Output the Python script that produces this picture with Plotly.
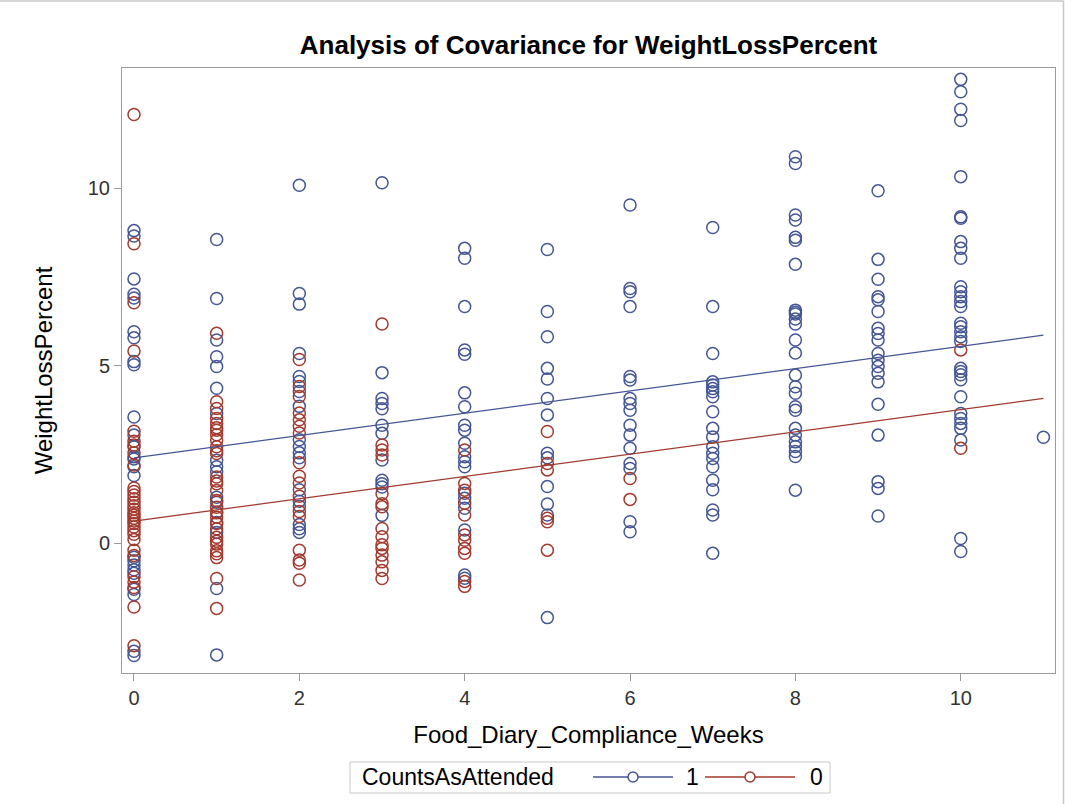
import plotly.graph_objects as go

# ---- data (weeks -> weight loss percent) ----
weeks_att = ([0]*25 + [1]*17 + [2]*18 + [3]*12 + [4]*19 + [5]*13 + [6]*16 + [7]*20 + [8]*26 + [9]*19 + [10]*32 + [11])
wl_att = [
    # week 0
    8.80, 8.65, 7.44, 7.01, 6.90, 5.95, 5.78, 5.11, 5.02, 3.55, 3.04, 2.71, 2.43, 2.37, 2.15,
    -0.40, -0.50, -0.62, -0.75, -0.85, -1.30, -1.45, -3.05, -3.17, 1.90,
    # week 1
    8.55, 6.89, 5.72, 5.25, 4.97, 4.36, 3.65, 2.33, 2.15, 2.01, 1.29, 1.15, 0.87, 0.58, 0.30, -1.28, -3.15,
    # week 2
    10.08, 7.03, 6.73, 5.34, 4.69, 4.55, 4.27, 3.85, 2.91, 2.72, 2.54, 2.40, 1.50, 1.18, 1.04, 0.52, 0.40, 0.30,
    # week 3
    10.15, 4.80, 4.07, 3.93, 3.78, 3.32, 3.09, 2.34, 1.77, 1.67, 1.58, 0.78,
    # week 4
    8.30, 8.02, 6.66, 5.44, 5.32, 4.23, 3.84, 3.32, 3.18, 2.81, 2.43, 2.29, 2.15, 1.40, 1.26, 0.98, 0.37, -0.90, -0.99,
    # week 5
    8.27, 6.52, 5.81, 4.92, 4.62, 4.07, 3.61, 2.53, 2.40, 1.59, 1.10, 0.79, -2.10,
    # week 6
    9.52, 7.17, 7.08, 6.66, 4.69, 4.59, 4.07, 3.93, 3.74, 3.32, 3.04, 2.67, 2.24, 2.10, 0.60, 0.32,
    # week 7
    8.89, 6.66, 5.34, 4.54, 4.45, 4.35, 4.26, 4.12, 3.70, 3.23, 2.99, 2.71, 2.53, 2.38, 2.15, 1.77, 1.50, 0.93, 0.79, -0.29,
    # week 8
    10.88, 10.69, 9.24, 9.10, 8.61, 8.53, 7.85, 6.56, 6.50, 6.45, 6.31, 6.17, 5.72, 5.35, 4.73, 4.40, 4.22,
    3.84, 3.74, 3.23, 3.04, 2.85, 2.72, 2.58, 2.44, 1.49,
    # week 9
    9.92, 7.99, 7.43, 6.94, 6.85, 6.52, 6.05, 5.90, 5.72, 5.34, 5.15, 4.97, 4.78, 4.54, 3.91, 3.04, 1.73, 1.54, 0.76,
    # week 10
    13.06, 12.71, 12.22, 11.90, 10.32, 9.19, 9.15, 8.49, 8.30, 8.02, 7.22, 7.08, 6.94, 6.80, 6.66, 6.19, 6.09,
    5.95, 5.81, 5.68, 4.92, 4.83, 4.74, 4.60, 4.12, 3.65, 3.51, 3.37, 3.23, 2.90, 0.13, -0.24,
    # week 11
    2.98,
]

weeks_not = ([0]*32 + [1]*30 + [2]*17 + [3]*15 + [4]*11 + [5]*6 + [6]*2 + [10]*2)
wl_not = [
    # week 0
    12.07, 8.43, 6.77, 5.41, 3.15, 2.87, 2.76, 2.54, 2.20, 1.55, 1.45, 1.35, 1.25, 1.15, 1.05, 0.95,
    0.85, 0.78, 0.70, 0.62, 0.55, 0.45, 0.35, 0.25, 0.10, -0.20, -0.35, -0.95, -1.10, -1.25, -1.80, -2.89,
    # week 1
    5.91, 3.98, 3.79, 3.51, 3.37, 3.25, 3.18, 3.05, 2.90, 2.71, 2.60, 2.52, 1.86, 1.75, 1.67, 1.48, 1.20,
    1.01, 0.85, 0.73, 0.55, 0.40, 0.16, 0.05, -0.03, -0.22, -0.30, -0.41, -1.00, -1.84,
    # week 2
    5.17, 4.41, 4.13, 3.66, 3.47, 3.29, 3.10, 2.26, 1.88, 1.69, 1.32, 0.89, 0.75, -0.20, -0.48, -0.57, -1.04,
    # week 3
    6.17, 2.76, 2.62, 2.48, 1.39, 1.11, 1.02, 0.41, 0.18, -0.05, -0.15, -0.34, -0.53, -0.77, -1.00,
    # week 4
    2.62, 1.68, 1.49, 1.12, 0.79, 0.23, 0.08, -0.15, -0.29, -1.08, -1.22,
    # week 5
    3.14, 2.24, 2.06, 0.70, 0.60, -0.20,
    # week 6
    1.82, 1.23,
    # week 10
    5.44, 2.67,
]

# fitted ANCOVA lines (common slope)
fit_slope = 0.314
fit_intercept_att = 2.40
fit_intercept_not = 0.62

x_ticks = [0, 2, 4, 6, 8, 10]
y_ticks = [0, 5, 10]
legend_title = "CountsAsAttended"
group_names = ["1", "0"]

BLUE = "#445694"
RED = "#A23A2E"
FONT = "Liberation Sans, Arial, sans-serif"

xmin = min(weeks_att + weeks_not)
xmax = max(weeks_att + weeks_not)
line_x = [xmin, xmax]

fig = go.Figure()
marker_common = dict(symbol="circle-open", size=12, line=dict(width=1.5))

fig.add_trace(go.Scatter(x=weeks_att, y=wl_att, mode="markers", name=group_names[0], showlegend=False,
                         marker=dict(color=BLUE, **marker_common)))
fig.add_trace(go.Scatter(x=weeks_not, y=wl_not, mode="markers", name=group_names[1], showlegend=False,
                         marker=dict(color=RED, **marker_common)))
fig.add_trace(go.Scatter(x=line_x, y=[fit_intercept_att + fit_slope * v for v in line_x], mode="lines",
                         showlegend=False, line=dict(color=BLUE, width=1.3)))
fig.add_trace(go.Scatter(x=line_x, y=[fit_intercept_not + fit_slope * v for v in line_x], mode="lines",
                         showlegend=False, line=dict(color=RED, width=1.3)))

L, R, T, B = 122, 10, 68, 131
W, H = 1065, 804
pw, ph = W - L - R, H - T - B


def px(x):
    return (x - L) / pw


def py(y):
    return (H - B - y) / ph


# ---- legend drawn as a box with line/marker samples (SAS style) ----
leg_y = 777
shapes = [
    dict(type="rect", xref="paper", yref="paper", x0=px(350), x1=px(830), y0=py(762), y1=py(793),
         line=dict(color="#c8c8c8", width=1), fillcolor="white", layer="below"),
    dict(type="line", xref="paper", yref="paper", x0=px(593), x1=px(673), y0=py(leg_y), y1=py(leg_y),
         line=dict(color=BLUE, width=1.3)),
    dict(type="line", xref="paper", yref="paper", x0=px(705), x1=px(795), y0=py(leg_y), y1=py(leg_y),
         line=dict(color=RED, width=1.3)),
]
for cx, col in [(633, BLUE), (750, RED)]:
    shapes.append(dict(type="circle", xref="paper", yref="paper", xsizemode="pixel", ysizemode="pixel",
                       xanchor=px(cx), yanchor=py(leg_y), x0=-5, x1=5, y0=-5, y1=5,
                       line=dict(color=col, width=1.5), fillcolor="white"))
# outer frame (top and right edges)
shapes += [
    dict(type="line", xref="paper", yref="paper", x0=px(0), x1=px(W - 1.5),
         y0=py(1), y1=py(1), line=dict(color="#c8c8c8", width=1.5)),
    dict(type="line", xref="paper", yref="paper", x0=px(W - 1.5), x1=px(W - 1.5),
         y0=py(H), y1=py(1), line=dict(color="#c8c8c8", width=1.5)),
]

annotations = [
    dict(text=legend_title, xref="paper", yref="paper", x=px(360), y=py(leg_y), xanchor="left",
         yanchor="middle", showarrow=False, font=dict(family=FONT, size=23, color="#000000")),
    dict(text=group_names[0], xref="paper", yref="paper", x=px(684), y=py(leg_y), xanchor="left",
         yanchor="middle", showarrow=False, font=dict(family=FONT, size=23, color="#000000")),
    dict(text=group_names[1], xref="paper", yref="paper", x=px(808), y=py(leg_y), xanchor="left",
         yanchor="middle", showarrow=False, font=dict(family=FONT, size=23, color="#000000")),
]

fig.update_layout(
    width=W, height=H,
    margin=dict(l=L, r=R, t=T, b=B),
    paper_bgcolor="white", plot_bgcolor="white",
    showlegend=False,
    font=dict(family=FONT, size=20, color="#333333"),
    title=dict(text="<b>Analysis of Covariance for WeightLossPercent</b>",
               x=0.5, xref="paper", xanchor="center", y=1 - 45 / H, yanchor="middle",
               font=dict(family=FONT, size=26, color="#000000")),
    xaxis=dict(range=[-0.145, 11.14], tickvals=x_ticks, showgrid=False, zeroline=False,
               showline=True, linecolor="#9a9a9a", linewidth=1, mirror=True,
               ticks="outside", ticklen=7, tickcolor="#9a9a9a",
               tickfont=dict(size=20, color="#333333"),
               title=dict(text="Food_Diary_Compliance_Weeks", standoff=18,
                          font=dict(size=24, color="#000000"))),
    yaxis=dict(range=[-3.66, 13.38], tickvals=y_ticks, showgrid=False, zeroline=False,
               showline=True, linecolor="#9a9a9a", linewidth=1, mirror=True,
               ticks="outside", ticklen=7, tickcolor="#9a9a9a",
               tickfont=dict(size=20, color="#333333"),
               title=dict(text="WeightLossPercent", standoff=28,
                          font=dict(size=24, color="#000000"))),
    shapes=shapes,
    annotations=annotations,
)

fig.write_html("out.html", config={"displayModeBar": False},
               post_script="document.body.style.margin='0px';")
